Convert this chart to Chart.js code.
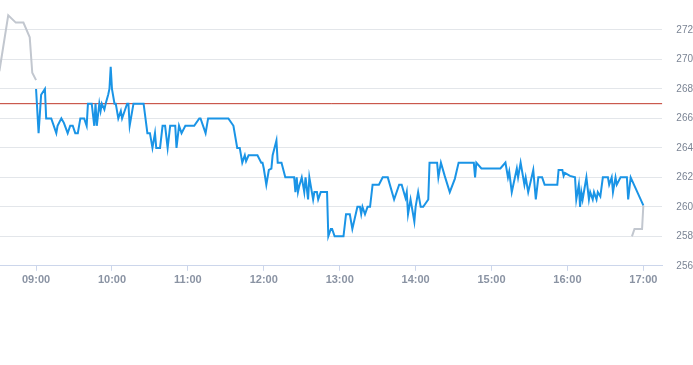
<!DOCTYPE html>
<html>
<head>
<meta charset="utf-8">
<script src="https://cdn.jsdelivr.net/npm/chart.js@4/dist/chart.umd.min.js"></script>
<style>
  html, body { margin: 0; padding: 0; background: #fff; }
  #wrap { width: 693px; height: 365px; }
</style>
</head>
<body>
<div id="wrap"><canvas id="priceChart" width="693" height="365"></canvas></div>
<script>
// pre-market (gray)
const preTimes = ['08:31', '08:38', '08:44', '08:50', '08:55', '08:57', '09:00'];
const prePrices = [269.2, 273.0, 272.5, 272.5, 271.5, 269.1, 268.6];

// regular session (blue)
const sessionTimes = [
  '09:00', '09:02', '09:04', '09:07', '09:08', '09:12', '09:16', '09:17', '09:20', '09:22',
  '09:25', '09:27', '09:29', '09:31', '09:33', '09:35', '09:38', '09:40', '09:41', '09:44',
  '09:46', '09:47', '09:48', '09:50', '09:51', '09:52', '09:54', '09:55', '09:57', '09:58',
  '09:59', '10:00', '10:02', '10:03', '10:05', '10:07', '10:08', '10:10', '10:12', '10:13',
  '10:14', '10:17', '10:25', '10:28', '10:30', '10:32', '10:34', '10:35', '10:38', '10:40',
  '10:42', '10:44', '10:46', '10:50', '10:51', '10:53', '10:55', '10:58', '11:05', '11:09',
  '11:10', '11:14', '11:16', '11:32', '11:36', '11:39', '11:41', '11:43', '11:45', '11:46',
  '11:48', '11:55', '11:58', '11:59', '12:00', '12:02', '12:04', '12:06', '12:07', '12:10',
  '12:11', '12:14', '12:17', '12:24', '12:25', '12:26', '12:27', '12:28', '12:30', '12:32',
  '12:33', '12:35', '12:36', '12:38', '12:39', '12:40', '12:42', '12:43', '12:45', '12:50',
  '12:51', '12:53', '12:54', '12:56', '13:03', '13:05', '13:08', '13:10', '13:14', '13:16',
  '13:17', '13:18', '13:20', '13:22', '13:24', '13:26', '13:31', '13:34', '13:38', '13:43',
  '13:47', '13:49', '13:52', '13:53', '13:54', '13:56', '13:57', '13:59', '14:00', '14:02',
  '14:04', '14:06', '14:10', '14:11', '14:17', '14:18', '14:20', '14:23', '14:27', '14:31',
  '14:34', '14:46', '14:47', '14:48', '14:52', '15:07', '15:11', '15:13', '15:14', '15:16',
  '15:20', '15:21', '15:23', '15:26', '15:27', '15:29', '15:33', '15:35', '15:37', '15:40',
  '15:42', '15:52', '15:53', '15:56', '15:57', '15:58', '16:02', '16:06', '16:07', '16:09',
  '16:10', '16:11', '16:12', '16:15', '16:17', '16:18', '16:20', '16:21', '16:23', '16:24',
  '16:26', '16:28', '16:32', '16:33', '16:35', '16:36', '16:38', '16:39', '16:42', '16:47',
  '16:48', '16:50', '17:00'
];
const sessionPrices = [
  268.0, 265.0, 267.6, 268.0, 266.0, 266.0, 265.0, 265.5, 266.0, 265.7,
  265.0, 265.5, 265.5, 265.0, 265.0, 266.0, 266.0, 265.5, 267.0, 267.0,
  265.5, 267.0, 265.5, 267.0, 266.5, 267.0, 266.6, 267.0, 267.6, 268.0,
  269.5, 268.0, 267.0, 267.0, 266.0, 266.5, 266.0, 266.5, 267.0, 267.0,
  265.5, 267.0, 267.0, 265.0, 265.0, 264.0, 265.0, 264.0, 264.0, 265.5,
  265.5, 264.0, 265.5, 265.5, 264.0, 265.5, 265.0, 265.5, 265.5, 266.0,
  266.0, 265.0, 266.0, 266.0, 265.5, 264.0, 264.0, 263.0, 263.5, 263.1,
  263.5, 263.5, 263.0, 263.0, 262.6, 261.5, 262.5, 262.6, 263.5, 264.5,
  263.0, 263.0, 262.0, 262.0, 261.0, 262.0, 261.0, 261.4, 262.0, 261.0,
  262.0, 260.5, 262.0, 261.0, 260.5, 261.0, 261.0, 260.5, 261.0, 261.0,
  258.0, 258.5, 258.5, 258.0, 258.0, 259.5, 259.5, 258.5, 260.0, 260.0,
  259.5, 260.0, 259.5, 260.0, 260.0, 261.5, 261.5, 262.0, 262.0, 260.5,
  261.5, 261.5, 260.6, 261.0, 259.5, 260.5, 260.0, 259.0, 260.0, 261.0,
  260.0, 260.0, 260.5, 263.0, 263.0, 262.0, 263.0, 262.1, 261.0, 261.9,
  263.0, 263.0, 262.0, 263.0, 262.6, 262.6, 263.0, 262.0, 262.4, 261.0,
  262.6, 262.0, 263.0, 261.5, 262.0, 261.0, 262.5, 260.5, 262.0, 262.0,
  261.5, 261.5, 262.5, 262.5, 262.1, 262.3, 262.1, 262.0, 260.5, 261.5,
  260.0, 261.0, 260.5, 262.0, 260.5, 261.0, 260.5, 261.0, 260.5, 261.0,
  260.7, 262.0, 262.0, 261.5, 262.0, 261.0, 262.0, 261.5, 262.0, 262.0,
  260.5, 262.0, 260.1
];

// post-market (gray)
const postTimes = ['16:51', '16:53', '16:59', '17:00'];
const postPrices = [258.0, 258.5, 258.5, 260.1];

// previous close line (red)
const refLevel = 267;

const xTickLabels = ['09:00', '10:00', '11:00', '12:00', '13:00', '14:00', '15:00', '16:00', '17:00'];
const yTickValues = [256, 258, 260, 262, 264, 266, 268, 270, 272];

function toMin(t) {
  const [h, m] = t.split(':').map(Number);
  return h * 60 + m;
}
function fmt(v) {
  const h = Math.floor(v / 60), m = Math.round(v % 60);
  return String(h).padStart(2, '0') + ':' + String(m).padStart(2, '0');
}
function pts(times, vals) {
  return times.map((t, i) => ({ x: toMin(t), y: vals[i] }));
}

const xMin = 511.5, xMax = 1035;

new Chart(document.getElementById('priceChart'), {
  type: 'line',
  data: {
    datasets: [
      { data: pts(sessionTimes, sessionPrices), borderColor: '#1a94e6', borderWidth: 2, order: 1 },
      { data: pts(preTimes, prePrices), borderColor: '#c2c7cf', borderWidth: 2, order: 2 },
      { data: pts(postTimes, postPrices), borderColor: '#c2c7cf', borderWidth: 2, order: 2 },
      { data: [{ x: xMin, y: refLevel }, { x: xMax, y: refLevel }], borderColor: '#c0392b', borderWidth: 1, order: 3 }
    ]
  },
  options: {
    responsive: false,
    animation: false,
    devicePixelRatio: 1,
    parsing: false,
    elements: { point: { radius: 0 }, line: { tension: 0, fill: false } },
    layout: { padding: { top: 0, left: 0, right: 0, bottom: 75 } },
    plugins: { legend: { display: false }, tooltip: { enabled: false } },
    scales: {
      x: {
        type: 'linear',
        min: xMin,
        max: xMax,
        afterBuildTicks: axis => { axis.ticks = xTickLabels.map(l => ({ value: toMin(l) })); },
        grid: { drawOnChartArea: false, drawTicks: true, tickLength: 5, color: '#ccd6eb' },
        border: { color: '#ccd6eb' },
        ticks: {
          padding: 3,
          maxRotation: 0,
          color: '#8a93a3',
          font: { family: 'Liberation Sans, Arial, sans-serif', size: 11, weight: 'bold' },
          callback: v => fmt(v)
        }
      },
      y: {
        position: 'right',
        min: 256,
        max: 274,
        afterBuildTicks: axis => { axis.ticks = yTickValues.concat([274]).map(v => ({ value: v })); },
        grid: { color: '#e3e6ea', drawTicks: true, tickLength: 14, tickColor: 'rgba(0,0,0,0)' },
        border: { display: false },
        ticks: {
          padding: 0,
          color: '#7b8494',
          font: { family: 'Liberation Sans, Arial, sans-serif', size: 10, lineHeight: 0.1 },
          callback: v => (yTickValues.includes(v) ? String(v) : null)
        }
      }
    }
  }
});
</script>
</body>
</html>
